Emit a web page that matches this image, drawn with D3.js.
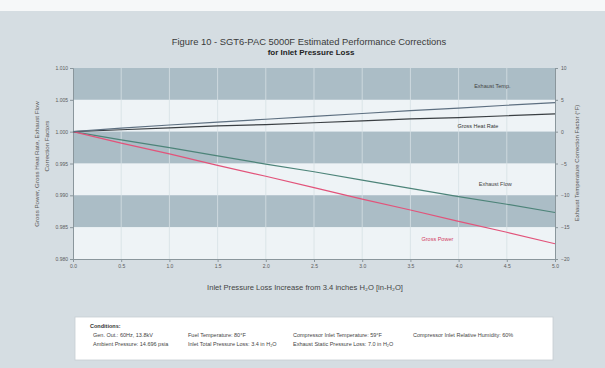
<!DOCTYPE html>
<html>
<head>
<meta charset="utf-8">
<script src="https://cdn.jsdelivr.net/npm/d3@7"></script>
<style>
  html, body { margin: 0; padding: 0; background: #f6f8f9; }
  svg { display: block; font-family: "Liberation Sans", Arial, sans-serif; }
</style>
</head>
<body>
<svg id="chart" width="605" height="368"></svg>
<script>
// Inlet pressure loss increase (in H2O)
const lossSteps = [0.0, 0.5, 1.0, 1.5, 2.0, 2.5, 3.0, 3.5, 4.0, 4.5, 5.0];

// Correction factors (left axis)
const grossPower   = [1.0000, 0.9982, 0.9965, 0.9947, 0.9930, 0.9912, 0.9894, 0.9877, 0.9859, 0.9842, 0.9824];
const grossHeatRate = [1.0000, 1.0003, 1.0006, 1.0009, 1.0011, 1.0014, 1.0017, 1.0020, 1.0022, 1.0025, 1.0028];
const exhaustFlow  = [1.0000, 0.9987, 0.9975, 0.9962, 0.9949, 0.9937, 0.9924, 0.9911, 0.9898, 0.9886, 0.9873];

// Exhaust temperature correction (right axis, deg F)
const exhaustTemp  = [0, 0.55, 1.05, 1.5, 1.95, 2.4, 2.85, 3.3, 3.7, 4.15, 4.55];

// Tick values
const leftTicks  = [1.010, 1.005, 1.000, 0.995, 0.990, 0.985, 0.980];
const rightTicks = [10, 5, 0, -5, -10, -15, -20];
const xTicks     = [0.0, 0.5, 1.0, 1.5, 2.0, 2.5, 3.0, 3.5, 4.0, 4.5, 5.0];

const conditionRows = [
  ["Gen. Out.: 60Hz, 13.8kV", "Fuel Temperature: 80\u00B0F", "Compressor Inlet Temperature: 59\u00B0F", "Compressor Inlet Relative Humidity: 60%"],
  ["Ambient Pressure: 14.696 psia", "Inlet Total Pressure Loss: 3.4 in H\u2082O", "Exhaust Static Pressure Loss: 7.0 in H\u2082O"]
];

const svg = d3.select("#chart");

// panel background
svg.append("rect").attr("x", 0).attr("y", 11).attr("width", 605).attr("height", 357).attr("fill", "#d5dde2");

const x  = d3.scaleLinear().domain([0, 5]).range([73, 555]);
const yL = d3.scaleLinear().domain([0.980, 1.010]).range([259, 68]);
const yR = d3.scaleLinear().domain([-20, 10]).range([259, 68]);

// title
svg.append("text").attr("x", 309).attr("y", 45).attr("text-anchor", "middle")
  .attr("font-size", 9.4).attr("fill", "#3a3a3a")
  .text("Figure 10 - SGT6-PAC 5000F Estimated Performance Corrections");
svg.append("text").attr("x", 311).attr("y", 55).attr("text-anchor", "middle")
  .attr("font-size", 8).attr("font-weight", "bold").attr("fill", "#222")
  .text("for Inlet Pressure Loss");

// alternating horizontal bands
const bandTicks = leftTicks.slice().sort((a, b) => b - a);
for (let i = 0; i < bandTicks.length - 1; i++) {
  svg.append("rect")
    .attr("x", x(0)).attr("y", yL(bandTicks[i]))
    .attr("width", x(5) - x(0)).attr("height", yL(bandTicks[i + 1]) - yL(bandTicks[i]))
    .attr("fill", i % 2 === 0 ? "#abbdc6" : "#eef3f6");
}

// vertical grid lines
svg.append("g").selectAll("line").data(xTicks.slice(1, -1)).join("line")
  .attr("x1", d => x(d)).attr("x2", d => x(d))
  .attr("y1", yL(1.010)).attr("y2", yL(0.980))
  .attr("stroke", "#d6e0e5").attr("stroke-width", 0.8);

// axes
const tickStyle = g => {
  g.selectAll("text").attr("font-size", 5).attr("fill", "#5a5a5a");
  g.selectAll("line, path").attr("stroke", "#8a969c");
};
svg.append("g").attr("transform", `translate(${x(0)},0)`)
  .call(d3.axisLeft(yL).tickValues(leftTicks).tickFormat(d3.format(".3f")).tickSize(3).tickPadding(2))
  .call(tickStyle);
svg.append("g").attr("transform", `translate(${x(5)},0)`)
  .call(d3.axisRight(yR).tickValues(rightTicks).tickFormat(d3.format("d")).tickSize(3).tickPadding(3))
  .call(tickStyle);
svg.append("g").attr("transform", `translate(0,${yL(0.980)})`)
  .call(d3.axisBottom(x).tickValues(xTicks).tickFormat(d3.format(".1f")).tickSize(3).tickPadding(2))
  .call(tickStyle);

// axis titles
svg.append("text").attr("transform", "translate(39,164) rotate(-90)")
  .attr("text-anchor", "middle").attr("font-size", 6.2).attr("fill", "#555")
  .text("Gross Power, Gross Heat Rate, Exhaust Flow");
svg.append("text").attr("transform", "translate(49,146) rotate(-90)")
  .attr("text-anchor", "middle").attr("font-size", 6.2).attr("fill", "#555")
  .text("Correction Factors");
svg.append("text").attr("transform", "translate(579,163) rotate(-90)")
  .attr("text-anchor", "middle").attr("font-size", 6).attr("fill", "#555")
  .text("Exhaust Temperature Correction Factor (\u00B0F)");
svg.append("text").attr("x", 305).attr("y", 290).attr("text-anchor", "middle")
  .attr("font-size", 7.6).attr("fill", "#444")
  .text("Inlet Pressure Loss Increase from 3.4 inches H\u2082O [in-H\u2082O]");

// series lines
const lineL = d3.line().x((d, i) => x(lossSteps[i])).y(d => yL(d));
const lineR = d3.line().x((d, i) => x(lossSteps[i])).y(d => yR(d));

const series = [
  { values: exhaustFlow, gen: lineL, color: "#4d8479" },
  { values: grossPower, gen: lineL, color: "#e2537a" },
  { values: grossHeatRate, gen: lineL, color: "#3a3f43" },
  { values: exhaustTemp, gen: lineR, color: "#5d6f80" }
];
svg.append("g").selectAll("path").data(series).join("path")
  .attr("d", s => s.gen(s.values))
  .attr("fill", "none").attr("stroke", s => s.color).attr("stroke-width", 1.2);

// series labels
const labels = [
  { text: "Exhaust Temp.", px: 4.35, py: 88, color: "#444" },
  { text: "Gross Heat Rate", px: 4.2, py: 128, color: "#333" },
  { text: "Exhaust Flow", px: 4.38, py: 186, color: "#444" },
  { text: "Gross Power", px: 3.78, py: 241, color: "#d23b63" }
];
svg.append("g").selectAll("text").data(labels).join("text")
  .attr("x", d => x(d.px)).attr("y", d => d.py)
  .attr("text-anchor", "middle").attr("font-size", 5.5)
  .attr("fill", d => d.color).text(d => d.text);

// conditions box
svg.append("rect").attr("x", 75).attr("y", 317).attr("width", 478).attr("height", 43)
  .attr("fill", "#ffffff").attr("stroke", "#c5ced3").attr("stroke-width", 0.8);
svg.append("text").attr("x", 90).attr("y", 328).attr("font-size", 5.5)
  .attr("font-weight", "bold").attr("fill", "#333").text("Conditions:");
const colX = [93, 188, 293, 413];
conditionRows.forEach((row, r) => {
  row.forEach((t, c) => {
    svg.append("text").attr("x", colX[c]).attr("y", 337 + r * 9)
      .attr("font-size", 5.5).attr("fill", "#444").text(t);
  });
});
</script>
</body>
</html>
